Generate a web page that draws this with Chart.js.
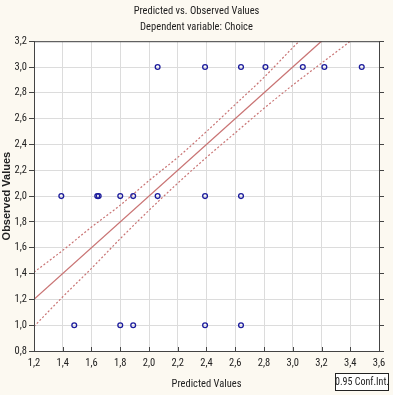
<!DOCTYPE html>
<html>
<head>
<meta charset="utf-8">
<script src="https://cdn.jsdelivr.net/npm/chart.js@4"></script>
<style>
  html, body { margin: 0; padding: 0; background: #fcf9f1; }
  #wrap { width: 393px; height: 395px; }
</style>
</head>
<body>
<div id="wrap"><canvas id="pvo" width="393" height="395"></canvas></div>
<script>
// observed cases (predicted on x, observed on y)
const predicted = [2.06, 2.39, 2.64, 2.81, 3.07, 3.22, 3.48,
                   1.39, 1.64, 1.65, 1.80, 1.89, 2.06, 2.39, 2.64,
                   1.48, 1.80, 1.89, 2.39, 2.64];
const observed  = [3, 3, 3, 3, 3, 3, 3,
                   2, 2, 2, 2, 2, 2, 2, 2,
                   1, 1, 1, 1, 1];

// fitted line and 0.95 confidence band
const fitX   = [1.2, 3.6];
const fitY   = [1.2, 3.6];
const bandX  = [1.2, 1.4, 1.6, 1.8, 2.0, 2.2, 2.4, 2.6, 2.8, 3.0, 3.2, 3.4, 3.6];
const bandHi = [1.41, 1.58, 1.76, 1.93, 2.12, 2.30, 2.50, 2.71, 2.92, 3.15, 3.37, 3.60, 3.83];
const bandLo = [0.99, 1.22, 1.44, 1.67, 1.89, 2.10, 2.30, 2.49, 2.68, 2.86, 3.03, 3.20, 3.38];

const NARROW = '"Roboto Condensed", "Arial Narrow", Arial, sans-serif';
const WIDE = '"Liberation Sans", Arial, sans-serif';
const RED = "#c97474";
const comma = v => Number(v).toFixed(1).replace(".", ",");
const pts = (xs, ys) => xs.map((x, i) => ({ x: x, y: ys[i] }));

// white plot area, frame and the little legend box
const frame = {
  id: "frame",
  beforeDraw(chart) {
    const { ctx, chartArea: a } = chart;
    ctx.save();
    ctx.fillStyle = "#ffffff";
    ctx.fillRect(a.left, a.top, a.right - a.left, a.bottom - a.top);
    ctx.restore();
  },
  afterDraw(chart) {
    const { ctx, chartArea: a } = chart;
    ctx.save();
    ctx.strokeStyle = "#444";
    ctx.lineWidth = 1;
    ctx.strokeRect(a.left + 0.5, a.top + 0.5, a.right - a.left, a.bottom - a.top);
    // bottom ticks point inward
    ctx.beginPath();
    for (let v = 1.4; v < 3.59; v += 0.2) {
      const px = Math.round(chart.scales.x.getPixelForValue(v)) + 0.5;
      ctx.moveTo(px, a.bottom);
      ctx.lineTo(px, a.bottom - 4);
    }
    ctx.stroke();
    // legend box
    ctx.fillStyle = "#ffffff";
    ctx.fillRect(335, 373, 53, 17);
    ctx.strokeStyle = "#222";
    ctx.strokeRect(335.5, 373.5, 53, 17);
    ctx.fillStyle = "#222";
    ctx.font = "10px " + NARROW;
    ctx.textAlign = "center";
    ctx.textBaseline = "middle";
    ctx.fillText("0.95 Conf.Int.", 362, 382.5);
    ctx.restore();
  }
};

new Chart(document.getElementById("pvo"), {
  type: "scatter",
  data: {
    datasets: [
      {
        label: "Observed",
        data: pts(predicted, observed),
        borderColor: "#1c1c9c",
        backgroundColor: "rgba(0,0,0,0)",
        borderWidth: 1.3,
        pointRadius: 2.4,
        pointHoverRadius: 2.4
      },
      {
        label: "Fit",
        type: "line",
        data: pts(fitX, fitY),
        borderColor: RED,
        borderWidth: 1.3,
        pointRadius: 0,
        fill: false
      },
      {
        label: "Upper",
        type: "line",
        data: pts(bandX, bandHi),
        borderColor: RED,
        borderWidth: 1.2,
        borderDash: [2, 2],
        cubicInterpolationMode: "monotone",
        pointRadius: 0,
        fill: false
      },
      {
        label: "Lower",
        type: "line",
        data: pts(bandX, bandLo),
        borderColor: RED,
        borderWidth: 1.2,
        borderDash: [2, 2],
        cubicInterpolationMode: "monotone",
        pointRadius: 0,
        fill: false
      }
    ]
  },
  options: {
    responsive: false,
    animation: false,
    layout: { padding: 0 },
    plugins: {
      legend: { display: false },
      tooltip: { enabled: false },
      title: {
        display: true,
        text: "Predicted vs. Observed Values",
        color: "#222",
        font: { family: NARROW, size: 10.5, weight: "normal" },
        padding: { top: 5, bottom: 3 }
      },
      subtitle: {
        display: true,
        text: "Dependent variable: Choice",
        color: "#222",
        font: { family: NARROW, size: 10.5 },
        padding: { top: 0, bottom: 8 }
      }
    },
    scales: {
      x: {
        type: "linear",
        min: 1.2,
        max: 3.6,
        ticks: {
          stepSize: 0.2,
          color: "#222",
          padding: 2,
          font: { family: NARROW, size: 10.5 },
          callback: comma
        },
        grid: { color: "#dcdcdc", tickLength: 4, tickColor: "rgba(0,0,0,0)" },
        border: { color: "#444" },
        title: {
          display: true,
          text: "Predicted Values",
          color: "#222",
          font: { family: NARROW, size: 10.5 },
          padding: { top: 5 }
        },
        afterFit: s => { s.height = 44; }
      },
      y: {
        type: "linear",
        min: 0.8,
        max: 3.2,
        ticks: {
          stepSize: 0.2,
          color: "#222",
          padding: 2,
          font: { family: NARROW, size: 10.5 },
          callback: comma
        },
        grid: { color: "#dcdcdc", tickLength: 5, tickColor: "#444" },
        border: { color: "#444" },
        title: {
          display: true,
          text: "Observed Values",
          color: "#222",
          font: { family: WIDE, size: 11, weight: "bold" },
          padding: 0
        },
        afterFit: s => { s.width = 34; }
      },
      y2: {
        type: "linear",
        position: "right",
        min: 0.8,
        max: 3.2,
        ticks: { stepSize: 0.2, display: false },
        grid: { drawOnChartArea: false, tickLength: 5, tickColor: "#444" },
        border: { color: "#444" },
        afterFit: s => { s.width = 14; }
      }
    }
  },
  plugins: [frame]
});
</script>
</body>
</html>
